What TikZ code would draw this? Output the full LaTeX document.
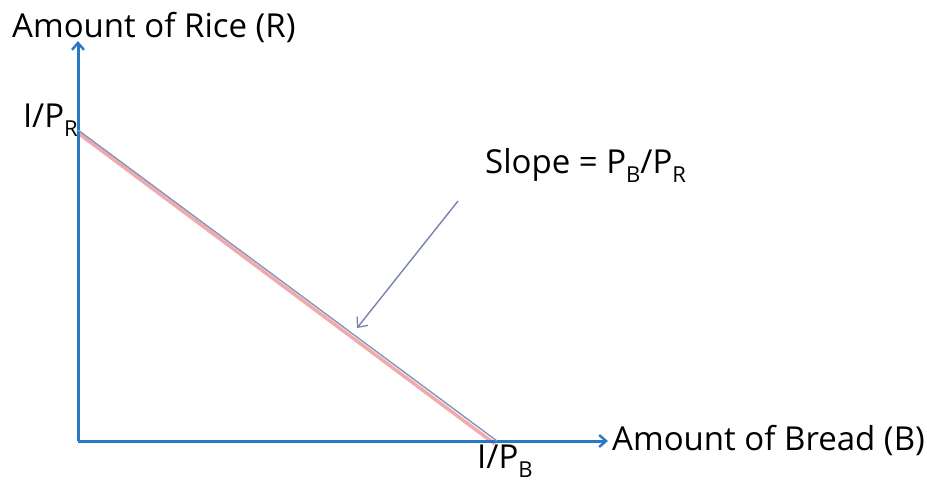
\documentclass[tikz,border=0pt]{standalone}
\usepackage{fontspec}
\setmainfont{Open Sans}
\usetikzlibrary{arrows.meta,calc}
\definecolor{axisblue}{RGB}{40,120,195}
\definecolor{budget}{RGB}{135,145,190}
\definecolor{shadowpink}{RGB}{240,170,170}
\definecolor{pointer}{RGB}{120,130,175}
\newcommand{\sbs}[1]{\raisebox{-0.3em}{\fontsize{22}{22}\selectfont #1}}
\tikzset{
  axis/.style={draw=axisblue, line width=3pt, -{Straight Barb[length=7pt,width=12pt,line width=2.4pt]}},
  lbl/.style={font=\fontsize{33}{35}\selectfont, inner sep=0pt, text=black},
  budgetline/.style={draw=budget, line width=1.4pt},
  shadow/.style={draw=shadowpink, line width=3.5pt},
  pointerarrow/.style={draw=pointer, line width=1.4pt, -{Straight Barb[length=8pt,width=14pt,line width=1.3pt]}}
}
\begin{document}
\begin{tikzpicture}[x=1pt,y=-1pt]
\useasboundingbox (0,0) rectangle (927,488);
\coordinate (O) at (78,441);
\coordinate (ytop) at (78,41);
\coordinate (xend) at (608,441);
\coordinate (R0) at (78,130);
\coordinate (B0) at (497,441);
\coordinate (ps) at (458,201);
\coordinate (pe) at (357,328);
\draw[shadow] ($(R0)+(0,3)$) -- ($(B0)+(-2,3)$);
\draw[axis] (O) -- (ytop);
\draw[axis] (O) -- (xend);
\draw[budgetline] (R0) -- (B0);
\draw[pointerarrow] (ps) -- (pe);
\node[lbl, anchor=base west] (ylab) at (12,37) {Amount of Rice (R)};
\node[lbl, anchor=base west] (xlab) at (612,450) {Amount of Bread (B)};
\node[lbl, anchor=base east] (ir) at (78,127) {I/P\sbs{R}};
\node[lbl, anchor=base west] (ib) at (477,468) {I/P\sbs{B}};
\node[lbl, anchor=base west] (slope) at (485,173) {Slope = P\sbs{B}/P\sbs{R}};
\end{tikzpicture}
\end{document}
